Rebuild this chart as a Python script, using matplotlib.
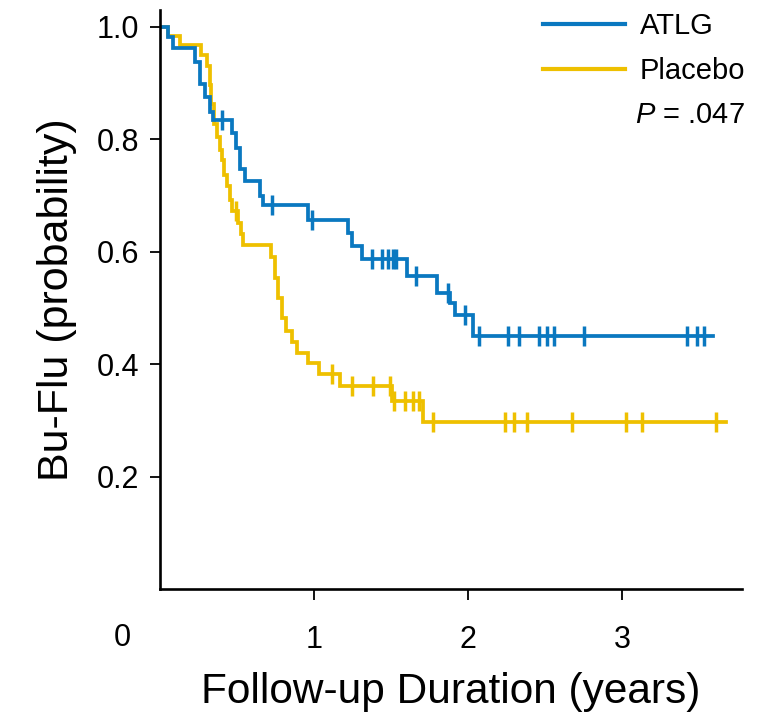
import numpy as np
import matplotlib
matplotlib.use("Agg")
from matplotlib import pyplot as plt

# Kaplan-Meier steps (time in years, survival after the step)
atlg_t = [0, 0.052, 0.084, 0.227, 0.26, 0.292, 0.325, 0.344, 0.468, 0.494, 0.52, 0.552,
          0.649, 0.669, 0.961, 1.221, 1.247, 1.312, 1.604, 1.799, 1.883, 1.916, 2.032]
atlg_s = [1.0, 0.982, 0.962, 0.937, 0.898, 0.875, 0.848, 0.834, 0.810, 0.785, 0.746, 0.726,
          0.699, 0.682, 0.657, 0.633, 0.610, 0.587, 0.556, 0.526, 0.508, 0.488, 0.449]
atlg_cens = [0.40, 0.727, 0.987, 1.377, 1.442, 1.481, 1.513, 1.532, 1.662, 1.870, 1.981,
             2.071, 2.260, 2.331, 2.461, 2.513, 2.558, 2.753, 3.422, 3.487, 3.532]
atlg_end = 3.591

plac_t = [0, 0.052, 0.13, 0.266, 0.305, 0.325, 0.331, 0.351, 0.370, 0.390, 0.403, 0.416,
          0.435, 0.455, 0.468, 0.506, 0.526, 0.539, 0.721, 0.747, 0.766, 0.792, 0.818,
          0.857, 0.890, 0.961, 1.032, 1.169, 1.506, 1.708]
plac_s = [1.0, 0.984, 0.968, 0.950, 0.930, 0.896, 0.862, 0.826, 0.803, 0.780, 0.762, 0.737,
          0.717, 0.692, 0.673, 0.651, 0.632, 0.612, 0.590, 0.553, 0.517, 0.481, 0.458,
          0.440, 0.420, 0.402, 0.383, 0.361, 0.335, 0.297]
plac_cens = [0.494, 1.117, 1.247, 1.383, 1.494, 1.519, 1.591, 1.643, 1.682, 1.773, 2.240,
             2.299, 2.383, 2.675, 3.026, 3.130, 3.610]
plac_end = 3.675

x_ticks = [1, 2, 3]
y_ticks = [0.2, 0.4, 0.6, 0.8, 1.0]
p_text = ".047"

BLUE = '#0A78C0'
YELLOW = '#EEC000'

plt.rcParams['font.family'] = ['Liberation Sans', 'DejaVu Sans']
plt.rcParams['mathtext.fontset'] = 'custom'
plt.rcParams['mathtext.it'] = 'Liberation Sans:italic'

fig = plt.figure(figsize=(7.69, 7.16), dpi=100)
ax = fig.add_axes([0.208, 0.1774, 0.757, 0.809])


def km(ax, t, s, cens, end, color, label):
    t = list(t) + [end]
    s = list(s) + [s[-1]]
    ax.step(t, s, where='post', color=color, lw=2.7, label=label, solid_joinstyle='miter')
    idx = np.searchsorted(np.array(t[:-1]), np.array(cens), side='right') - 1
    cy = np.array(s)[idx]
    ax.plot(cens, cy, linestyle='none', marker='|', markersize=15, mew=2.5, color=color)


km(ax, plac_t, plac_s, plac_cens, plac_end, YELLOW, 'Placebo')
km(ax, atlg_t, atlg_s, atlg_cens, atlg_end, BLUE, 'ATLG')

ax.set_xlim(0, 3.78)
ax.set_ylim(0, 1.03)
ax.set_xticks(x_ticks)
ax.set_yticks(y_ticks)
ax.set_yticklabels(['{:.1f}'.format(v) for v in y_ticks])
ax.spines['top'].set_visible(False)
ax.spines['right'].set_visible(False)
ax.spines['left'].set_linewidth(1.9)
ax.spines['bottom'].set_linewidth(1.9)
ax.tick_params(axis='y', direction='out', length=7, width=1.3, labelsize=22, pad=8)
ax.tick_params(axis='x', direction='out', length=8, width=1.3, labelsize=22, pad=18)
ax.text(-0.247, -0.085, '0', fontsize=22, ha='center', va='center',
        transform=ax.get_xaxis_transform(), clip_on=False)

ax.set_xlabel('Follow-up Duration (years)', fontsize=30.5, labelpad=12)
ax.set_ylabel('Bu-Flu (probability)', fontsize=31, labelpad=14)

h, l = ax.get_legend_handles_labels()
leg = ax.legend(h[::-1], l[::-1], loc='upper right', bbox_to_anchor=(1.005, 0.9965), frameon=False,
                borderpad=0, borderaxespad=0, fontsize=21, handlelength=2.8, handletextpad=0.5,
                labelspacing=0.6)
for line in leg.get_lines():
    line.set_linewidth(3)
ax.text(1.005, 0.819, r'$P$ = ' + p_text, fontsize=21, ha='right', va='center',
        transform=ax.transAxes)

fig.savefig('out.png', dpi=100)
